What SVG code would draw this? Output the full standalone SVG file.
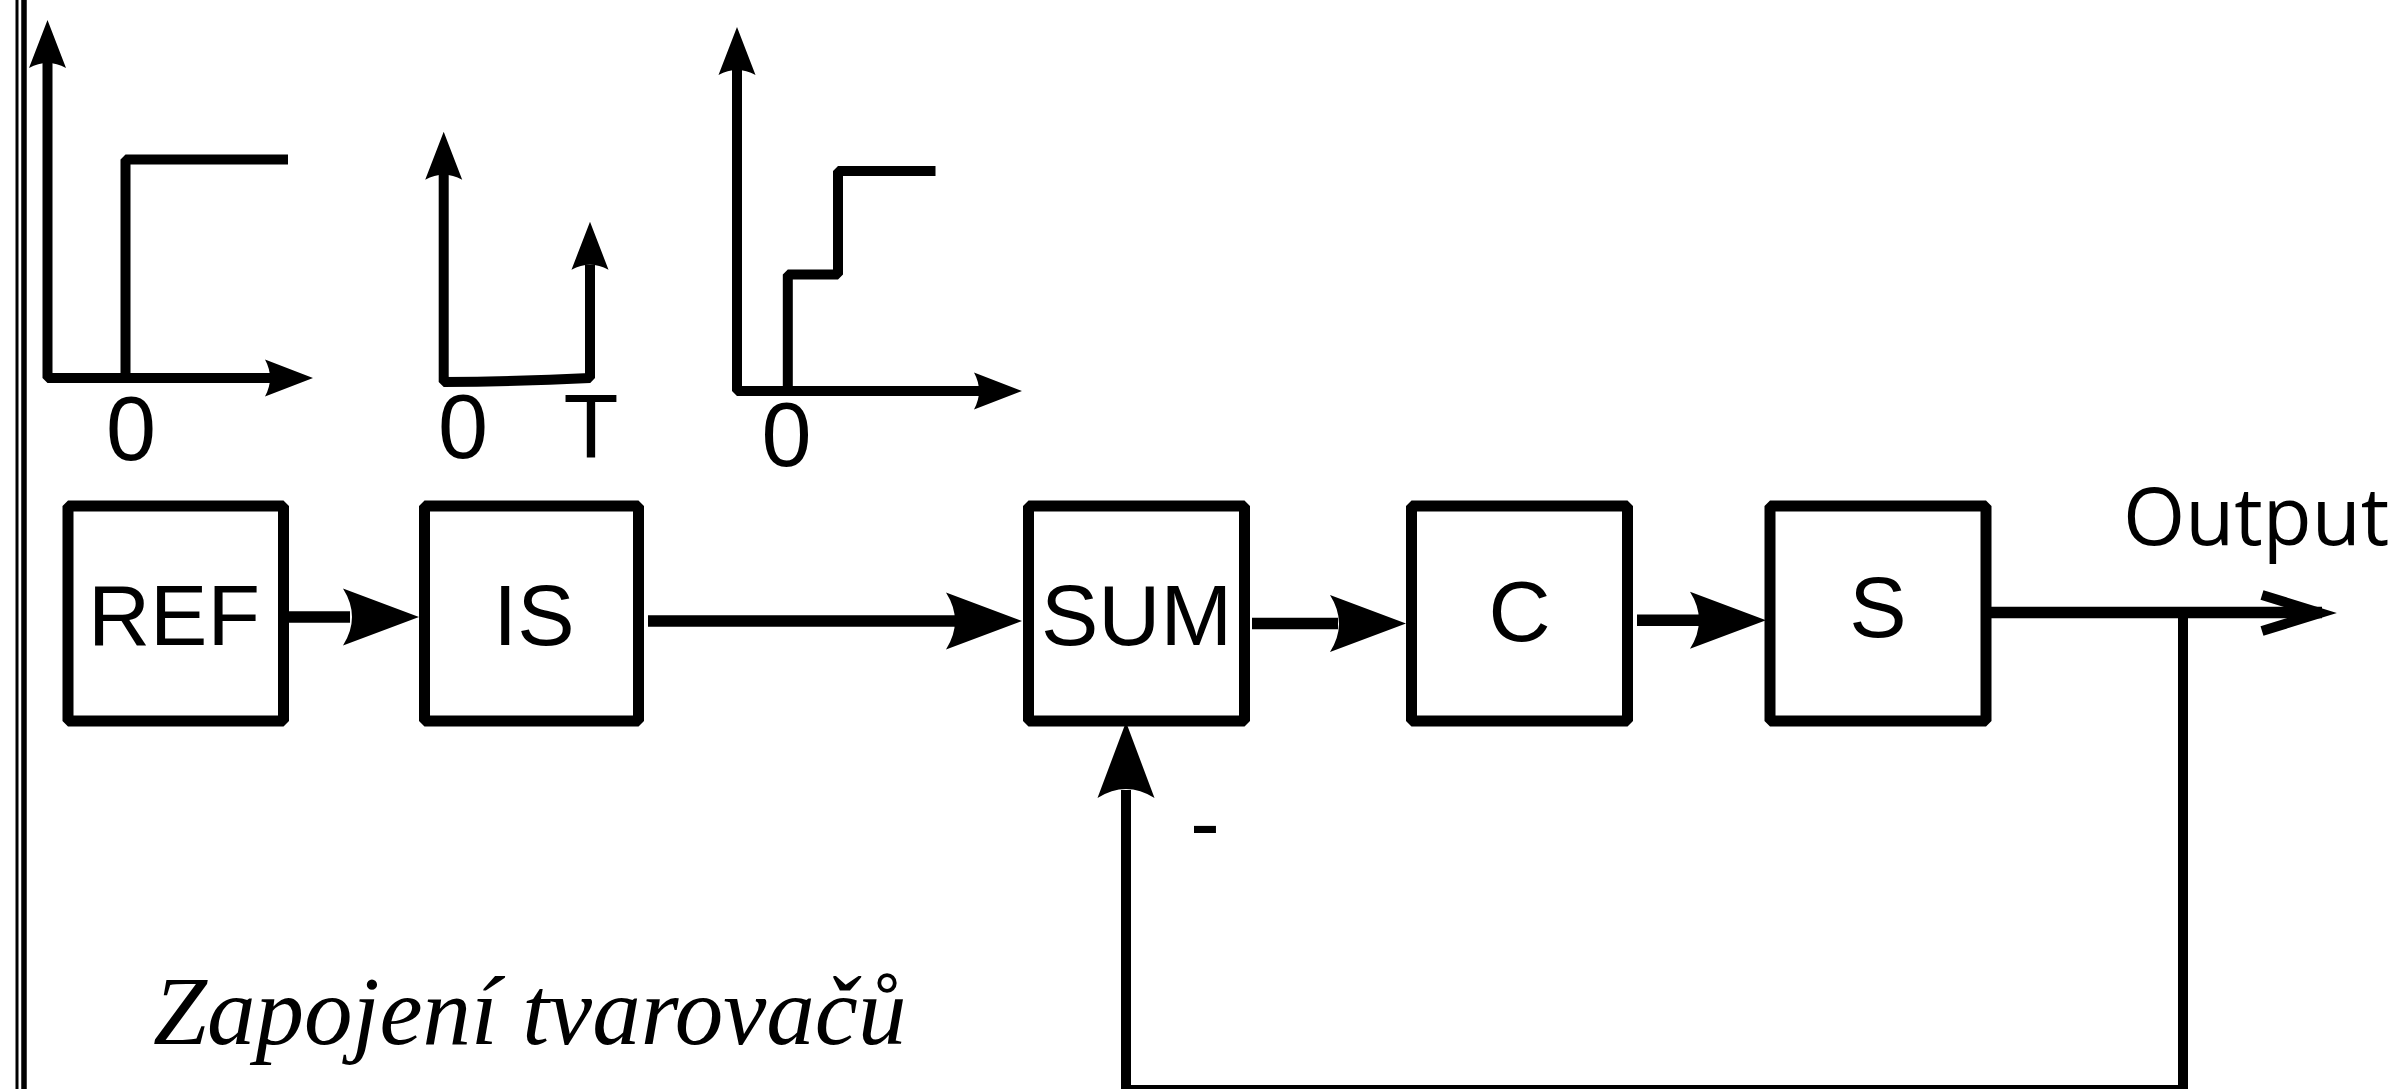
<svg xmlns="http://www.w3.org/2000/svg" width="2396" height="1089" viewBox="0 0 2396 1089">
<style>
.box{fill:#fff;stroke:#000;stroke-width:11;stroke-linejoin:bevel}
.lbl{font-family:"Liberation Sans",Arial,sans-serif;font-size:86px;fill:#000;text-anchor:middle}
.glbl{font-family:"Liberation Sans",Arial,sans-serif;font-size:90px;fill:#000;text-anchor:middle}
.gl{fill:none;stroke:#000;stroke-width:10;stroke-linejoin:bevel}
.cn{fill:none;stroke:#000;stroke-width:11.5}
.fb{fill:none;stroke:#000;stroke-width:10}
</style>
<defs>
<path id="ahBig" d="M0,0 L-76,-28.5 Q-58,0 -76,28.5 Z" fill="#000"/>
<path id="ahSmall" d="M0,0 L-48,-18.5 Q-38,0 -48,18.5 Z" fill="#000"/>
</defs>
<rect width="2396" height="1089" fill="#fff"/>
<g id="border">
<line x1="17" y1="0" x2="17" y2="1089" stroke="#000" stroke-width="3"/>
<line x1="24" y1="0" x2="24" y2="1089" stroke="#000" stroke-width="5.5"/>
</g>
<g id="graph1">
<path class="gl" d="M47.5,62 L47.5,378 L270,378"/>
<path class="gl" d="M125.5,378 L125.5,159.5 L288,159.5"/>
<use href="#ahSmall" transform="translate(47.5,20) rotate(-90)"/>
<use href="#ahSmall" transform="translate(313,378)"/>
<text class="glbl" x="131" y="460">0</text>
</g>
<g id="graph2">
<path class="gl" d="M443.7,174 L443.7,382 Q520,381.5 590,378 L590,265"/>
<use href="#ahSmall" transform="translate(443.7,131.7) rotate(-90)"/>
<use href="#ahSmall" transform="translate(590,221.7) rotate(-90)"/>
<text class="glbl" x="463" y="458">0</text>
<text class="glbl" x="591" y="458">T</text>
</g>
<g id="graph3">
<path class="gl" d="M737,70 L737,391 L980,391"/>
<path class="gl" d="M787.8,391 L787.8,274.5 L838,274.5 L838,171 L935.5,171"/>
<use href="#ahSmall" transform="translate(737,27) rotate(-90)"/>
<use href="#ahSmall" transform="translate(1022,391)"/>
<text class="glbl" x="786.5" y="466">0</text>
</g>
<g id="connectors">
<line class="cn" x1="283" y1="617" x2="350" y2="617"/>
<use href="#ahBig" transform="translate(419,617)"/>
<line class="cn" x1="648" y1="621" x2="955" y2="621"/>
<use href="#ahBig" transform="translate(1022,621)"/>
<line class="cn" x1="1252" y1="623.5" x2="1338" y2="623.5"/>
<use href="#ahBig" transform="translate(1406,623.5)"/>
<line class="cn" x1="1637" y1="620.3" x2="1700" y2="620.3"/>
<use href="#ahBig" transform="translate(1766,620.3)"/>
<line class="cn" x1="1990" y1="612.5" x2="2322" y2="612.5"/>
<polyline points="2262,595 2320,613 2262,631" fill="none" stroke="#000" stroke-width="10" stroke-linejoin="miter"/>
<path class="fb" d="M2183,612 L2183,1090 L1126,1090 L1126,790"/>
<use href="#ahBig" transform="translate(1126,722) rotate(-90)"/>
</g>
<g id="REF">
<rect class="box" x="68" y="506" width="215.5" height="215"/>
<text class="lbl" x="174" y="645">REF</text>
</g>
<g id="IS">
<rect class="box" x="424.5" y="506" width="214" height="215"/>
<text class="lbl" x="534" y="645">IS</text>
</g>
<g id="SUM">
<rect class="box" x="1028.5" y="506" width="216" height="215"/>
<text class="lbl" x="1136.5" y="645">SUM</text>
</g>
<g id="C">
<rect class="box" x="1411.5" y="506" width="216" height="215"/>
<text class="lbl" x="1519.5" y="641">C</text>
</g>
<g id="S">
<rect class="box" x="1770" y="506" width="216" height="215"/>
<text class="lbl" x="1878" y="637">S</text>
</g>
<text x="2123" y="545" font-family="'Open Sans',sans-serif" font-size="80" fill="#000">Output</text>
<text x="1205" y="854" font-family="'Liberation Sans',Arial,sans-serif" font-size="90" fill="#000" text-anchor="middle">-</text>
<text x="153" y="1044" font-family="'Liberation Serif','Times New Roman',serif" font-style="italic" font-size="97" fill="#000">Zapojení tvarovačů</text>
</svg>
